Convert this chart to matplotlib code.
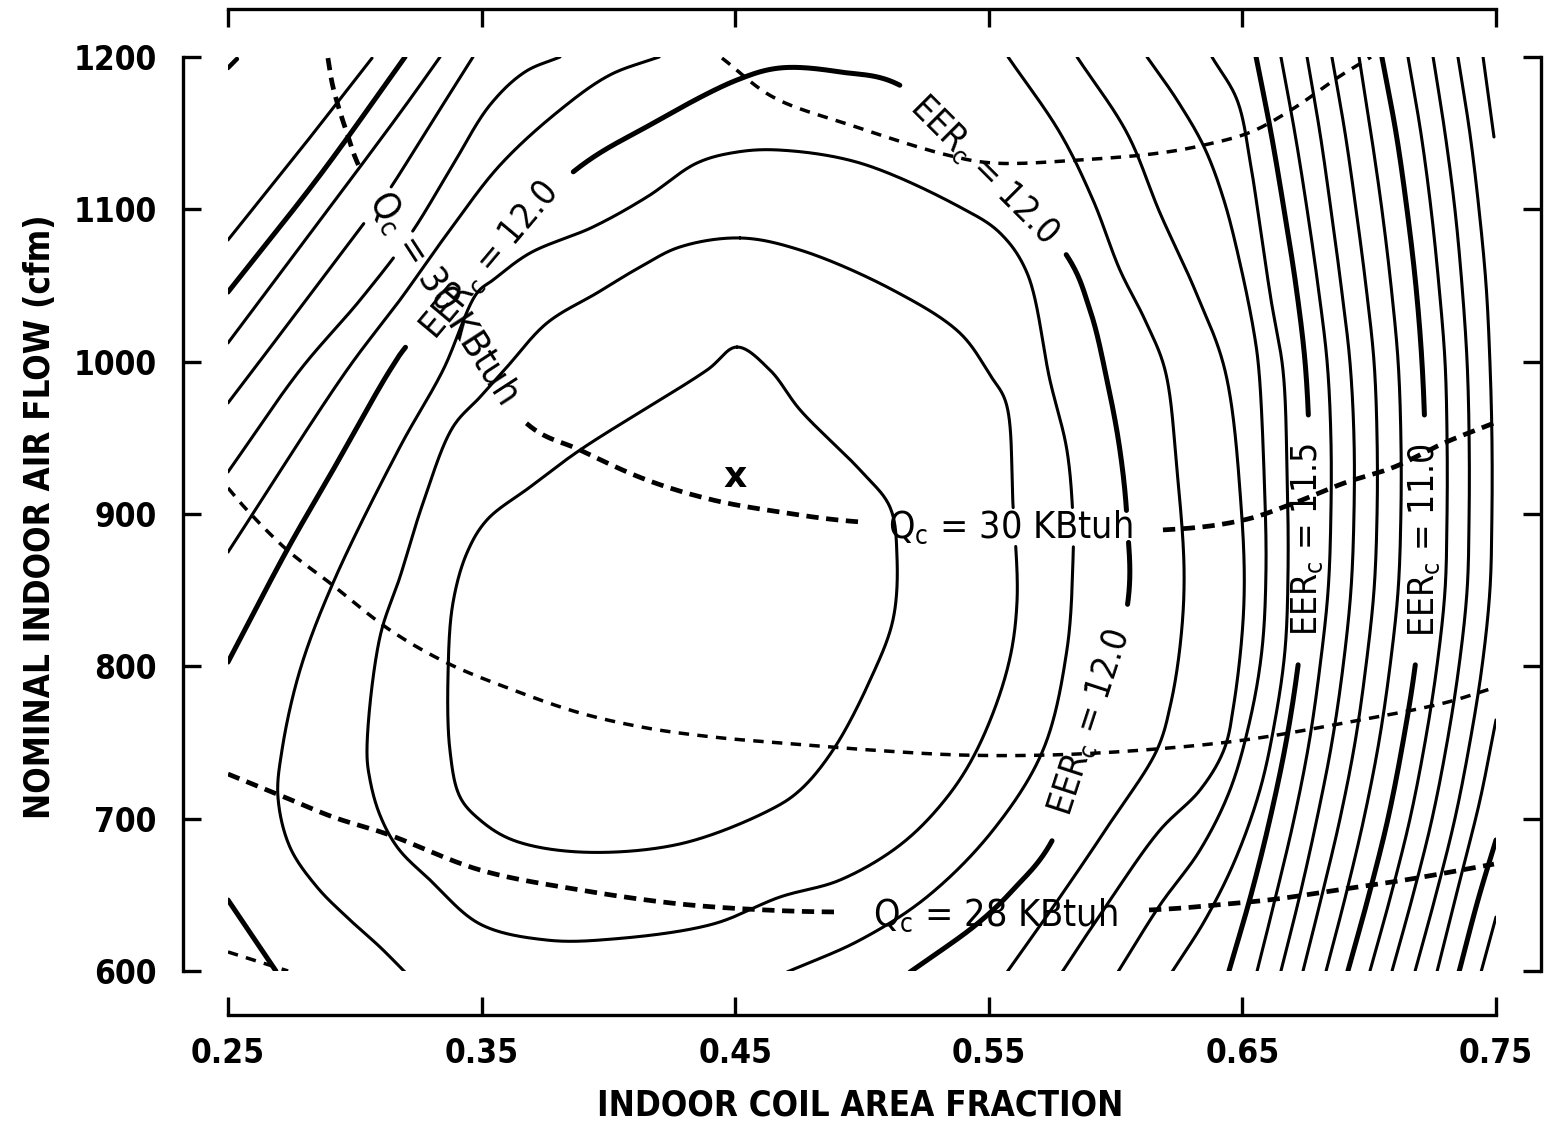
import numpy as np
import matplotlib
matplotlib.use("Agg")
import matplotlib.pyplot as plt
from matplotlib import font_manager

plt.rcParams['font.family'] = ['DejaVu Sans']
plt.rcParams['mathtext.fontset'] = 'dejavusans'

# ---------------- data ----------------
X_TICKS = [0.25, 0.35, 0.45, 0.55, 0.65, 0.75]
X_TICKLABELS = ['0.25', '0.35', '0.45', '0.55', '0.65', '0.75']
Y_TICKS = [600, 700, 800, 900, 1000, 1100, 1200]
Y_TICKLABELS = ['600', '700', '800', '900', '1000', '1100', '1200']
X_LABEL = 'INDOOR COIL AREA FRACTION'
Y_LABEL = 'NOMINAL INDOOR AIR FLOW (cfm)'

# EER_c contours, upper-left family (x = area fraction, y = cfm)
EER113_X = [0.2500, 0.2535]
EER113_Y = [1192.8, 1198.7]
EER114_X = [0.2500, 0.2784, 0.3068]
EER114_Y = [1079.9, 1138.9, 1199.3]
EER115A_X = [0.2500, 0.2863, 0.3198]
EER115A_Y = [1045.7, 1122.5, 1200.0]
EER116A_X = [0.2500, 0.3178, 0.3336]
EER116A_Y = [1012.3, 1163.2, 1200.0]
EER117A_X = [0.2500, 0.2599, 0.2823, 0.3052, 0.3127, 0.3297, 0.3466]
EER117A_Y = [972.9, 994.5, 1043.8, 1094.3, 1110.7, 1155.4, 1200.0]
EER118A_X = [0.2500, 0.2784, 0.3021, 0.3218, 0.3375, 0.3533, 0.3671, 0.3809]
EER118A_Y = [927.6, 994.5, 1040.5, 1083.2, 1125.8, 1168.5, 1190.2, 1200.0]
EER119A_X = [0.2500, 0.2969, 0.3178, 0.3375, 0.3573, 0.3809, 0.4006, 0.4200]
EER119A_Y = [875.0, 994.5, 1040.5, 1086.4, 1129.1, 1165.2, 1188.2, 1200.0]

# EER_c = 12.0 (main curve) and the small corner piece
EER120_X = [0.2500, 0.2733, 0.2914, 0.3139, 0.3210,
            0.3856, 0.4164, 0.4507, 0.4677, 0.4913, 0.5162,
            0.5801, 0.5899, 0.5966, 0.6017, 0.6045, 0.6045,
            0.5753, 0.5595, 0.5453, 0.5189]
EER120_Y = [802.8, 876.4, 928.9, 994.5, 1011.5,
            1123.9, 1155.4, 1184.9, 1192.8, 1190.2, 1180.3,
            1071.3, 1033.9, 987.9, 942.0, 896.1, 838.3,
            686.6, 653.2, 630.8, 599.3]
EER120B_X = [0.2500, 0.2689]
EER120B_Y = [646.6, 600.0]

# EER_c = 12.1 (open curve)
EER121_X = [0.3198, 0.3099, 0.2981, 0.2851, 0.2744, 0.2697, 0.2713, 0.2784, 0.2914,
            0.3178, 0.3348, 0.3482, 0.3545, 0.3691, 0.3939, 0.4152, 0.4349, 0.4507,
            0.4677, 0.4992, 0.5386, 0.5544, 0.5651, 0.5741, 0.5808, 0.5832, 0.5832,
            0.5808, 0.5714, 0.5517, 0.5256, 0.4992, 0.4704]
EER121_Y = [599.3, 615.8, 633.5, 655.1, 681.4, 714.2, 745.1, 797.6, 854.7,
            944.0, 994.5, 1045.1, 1053.6, 1071.3, 1088.4, 1108.1, 1130.4, 1137.6,
            1138.9, 1130.4, 1101.5, 1084.5, 1058.2, 987.9, 942.0, 896.1, 869.8,
            810.7, 745.1, 692.5, 648.6, 620.3, 599.3]

# EER_c = 12.2 (closed)
EER122_X = [0.4519, 0.4756, 0.5122, 0.5386, 0.5505, 0.5568, 0.5595, 0.5611, 0.5572,
            0.5453, 0.5327, 0.5150, 0.4913, 0.4677, 0.4412, 0.4018, 0.3758, 0.3494,
            0.3297, 0.3170, 0.3099, 0.3060, 0.3048, 0.3099, 0.3178, 0.3269, 0.3387,
            0.3494, 0.3600, 0.3758, 0.3955, 0.4125, 0.4282, 0.4519]
EER122_Y = [1081.2, 1073.3, 1047.0, 1018.8, 991.2, 972.9, 907.2, 841.6, 797.6,
            745.1, 712.3, 682.7, 659.7, 648.6, 630.8, 621.0, 620.3, 630.8,
            659.7, 680.7, 702.4, 725.4, 745.1, 819.2, 858.6, 907.2, 957.1,
            976.8, 996.5, 1025.4, 1045.1, 1062.1, 1075.3, 1081.2]

# EER_c = 12.3 (closed, innermost)
EER123_X = [0.4507, 0.4637, 0.4756, 0.4992, 0.5110, 0.5138, 0.5122, 0.5032, 0.4886,
            0.4756, 0.4637, 0.4282, 0.3888, 0.3624, 0.3494, 0.3415, 0.3375, 0.3368,
            0.3387, 0.3442, 0.3521, 0.3691, 0.3888, 0.4389, 0.4507]
EER123_Y = [1009.6, 994.5, 968.3, 928.9, 904.6, 871.8, 830.4, 791.0, 745.1,
            718.8, 705.7, 683.4, 678.1, 685.9, 699.1, 714.2, 745.1, 797.6,
            841.6, 874.4, 896.1, 917.7, 942.0, 994.5, 1009.6]

# right-hand family, irregular ones
EER119B_X = [0.5576, 0.5781, 0.5911, 0.6017, 0.6116, 0.6195, 0.6242, 0.6270, 0.6258,
             0.6218, 0.6163, 0.5978, 0.5781, 0.5572]
EER119B_Y = [1200.0, 1150.1, 1106.1, 1060.2, 1027.3, 994.5, 928.9, 863.2, 819.2,
             775.9, 745.1, 697.1, 648.6, 599.3]
EER118B_X = [0.5848, 0.6045, 0.6175, 0.6313, 0.6431, 0.6494, 0.6506, 0.6467, 0.6427,
             0.6333, 0.6175, 0.5978, 0.5789]
EER118B_Y = [1200.0, 1150.1, 1097.6, 1047.0, 994.5, 907.2, 841.6, 775.9, 745.1,
             718.8, 692.5, 646.6, 599.3]
EER117B_X = [0.6124, 0.6242, 0.6349, 0.6427, 0.6494, 0.6546, 0.6565, 0.6585, 0.6593,
             0.6577, 0.6530, 0.6451, 0.6333, 0.6175, 0.6009]
EER117B_Y = [1200.0, 1171.8, 1140.9, 1106.1, 1062.1, 1018.8, 994.5, 928.9, 863.2,
             810.7, 764.8, 718.8, 679.4, 643.3, 599.3]
EER116B_X = [0.6380, 0.6479, 0.6534, 0.6573, 0.6613, 0.6660, 0.6676, 0.6680, 0.6668,
             0.6629, 0.6569, 0.6471, 0.6353, 0.6222]
EER116B_Y = [1200.0, 1171.8, 1127.8, 1084.5, 1040.5, 994.5, 928.9, 863.2, 810.7,
             764.8, 718.8, 672.8, 633.5, 599.3]

# right-hand family sampled on a common cfm grid
RG_Y = [1200, 1150, 1100, 1050, 1000, 950, 900, 850, 800, 750, 700, 650, 600]
EER115B_X = [0.6554, 0.6613, 0.6664, 0.6711, 0.6747, 0.6763, 0.6763, 0.6751, 0.6719, 0.6672, 0.6609, 0.6534, 0.6447]
EER114B_X = [0.6652, 0.6707, 0.6755, 0.6798, 0.6834, 0.6849, 0.6849, 0.6838, 0.6806, 0.6763, 0.6704, 0.6633, 0.6558]
EER113B_X = [0.6755, 0.6806, 0.6849, 0.6889, 0.6924, 0.6940, 0.6940, 0.6928, 0.6897, 0.6853, 0.6794, 0.6727, 0.6652]
EER112_X = [0.6853, 0.6905, 0.6948, 0.6987, 0.7019, 0.7031, 0.7031, 0.7019, 0.6987, 0.6944, 0.6885, 0.6814, 0.6739]
EER111_X = [0.6960, 0.7007, 0.7050, 0.7086, 0.7114, 0.7125, 0.7125, 0.7114, 0.7082, 0.7038, 0.6979, 0.6908, 0.6830]
EER110_X = [0.7050, 0.7106, 0.7149, 0.7184, 0.7208, 0.7220, 0.7220, 0.7212, 0.7181, 0.7133, 0.7074, 0.6999, 0.6916]
EER109_X = [0.7153, 0.7204, 0.7244, 0.7275, 0.7299, 0.7307, 0.7307, 0.7299, 0.7267, 0.7220, 0.7161, 0.7086, 0.7003]
EER108_X = [0.7252, 0.7299, 0.7338, 0.7366, 0.7386, 0.7394, 0.7394, 0.7386, 0.7354, 0.7307, 0.7248, 0.7173, 0.7090]
EER107_X = [0.7350, 0.7397, 0.7433, 0.7461, 0.7476, 0.7484, 0.7484, 0.7476, 0.7445, 0.7397, 0.7338, 0.7263, 0.7181]
EER106A_X = [0.7449, 0.7492]
EER106A_Y = [1200.0, 1147.5]
EER106B_X = [0.7500, 0.7437, 0.7358, 0.7267]
EER106B_Y = [764.8, 712.3, 659.7, 599.3]
EER105_X = [0.7500, 0.7429, 0.7354]
EER105_Y = [686.0, 646.6, 599.3]
EER104_X = [0.7500, 0.7441]
EER104_Y = [635.4, 599.3]

# Q_c (capacity) dashed contours
Q31_X = [0.4448, 0.4649, 0.4953, 0.5335, 0.5517, 0.5860, 0.6175, 0.6349, 0.6534, 0.6704, 0.6873, 0.7007]
Q31_Y = [1199.3, 1173.7, 1155.4, 1135.7, 1130.4, 1132.4, 1137.0, 1142.2, 1150.8, 1166.5, 1186.2, 1200.0]
Q30_X = [0.2894, 0.2914, 0.2969, 0.3028, 0.3671, 0.3888, 0.4152, 0.4412, 0.4677, 0.4992,
         0.6179, 0.6506, 0.6704, 0.6901, 0.7098, 0.7295, 0.7492]
Q30_Y = [1199.3, 1180.3, 1150.1, 1124.5, 960.4, 942.0, 922.3, 909.2, 901.3, 894.8,
         889.5, 896.1, 907.2, 920.3, 930.8, 946.6, 959.7]
Q29_X = [0.2500, 0.2575, 0.2733, 0.2902, 0.3139, 0.3364, 0.3624, 0.3888, 0.4152, 0.4412,
         0.4677, 0.5032, 0.5386, 0.5741, 0.6112, 0.6506, 0.6901, 0.7295, 0.7500]
Q29_Y = [917.1, 902.6, 876.4, 854.7, 823.8, 802.2, 784.5, 769.4, 759.5, 753.6,
         749.7, 745.1, 741.8, 741.8, 745.1, 751.6, 762.8, 775.9, 786.4]
Q28_X = [0.2500, 0.2693, 0.2914, 0.3127, 0.3494, 0.3888, 0.4282, 0.4625, 0.4925,
         0.6124, 0.6439, 0.6636, 0.6901, 0.7165, 0.7492]
Q28_Y = [729.3, 716.2, 701.1, 689.9, 666.3, 653.2, 644.0, 640.0, 638.7,
         640.0, 644.0, 647.3, 653.8, 660.4, 670.2]
Q27_X = [0.2500, 0.2737]
Q27_Y = [612.5, 600.0]

# design point marker
OPT_X, OPT_Y = 0.45, 924.3

# inline labels: text, x, y, rotation
LABELS = [
    ('EER$_\\mathregular{c}$ = 12.0', 0.3533, 1066.7, 50),
    ('EER$_\\mathregular{c}$ = 12.0', 0.5481, 1125.8, -45),
    ('EER$_\\mathregular{c}$ = 12.0', 0.5899, 762.8, 72),
    ('EER$_\\mathregular{c}$ = 11.5', 0.6755, 882.9, 90),
    ('EER$_\\mathregular{c}$ = 11.0', 0.7216, 882.9, 90),
    ('Q$_\\mathregular{c}$ = 30 KBtuh', 0.3348, 1042.4, -57),
    ('Q$_\\mathregular{c}$ = 30 KBtuh', 0.5584, 891.5, 0),
    ('Q$_\\mathregular{c}$ = 28 KBtuh', 0.5524, 636.8, 0),
]

# places where other lines are broken by a label's glyphs (x, y, radius px)
GAP_117 = [(0.3088, 1102.8, 22)]
GAP_118 = [(0.3210, 1074.0, 17)]
GAP_122 = [(0.5595, 891.5, 19)]
GAP_121 = [(0.5832, 891.5, 19)]
GAP_120 = [(0.6045, 891.5, 15)]

# ---------------- fonts ----------------
_cond_path = font_manager.findfont(font_manager.FontProperties(
    family='DejaVu Sans', stretch='condensed', weight='bold'))
CONDENSED = 'ondensed' in _cond_path
if CONDENSED:
    STRETCH = 'condensed'
    FS_TICK, FS_AXIS, FS_EER, FS_Q, FS_X = 24, 25, 25.5, 27, 26
else:
    STRETCH = 'normal'
    FS_TICK, FS_AXIS, FS_EER, FS_Q, FS_X = 22, 22.5, 24, 25.5, 25

# ---------------- figure ----------------
W, H = 1544, 1127
fig = plt.figure(figsize=(W / 100, H / 100), dpi=100)
ax = fig.add_axes([228 / W, 1 - 971 / H, 1268 / W, 914 / H])
ax.set_xlim(0.25, 0.75)
ax.set_ylim(600, 1200)


def centripetal(P, closed=False):
    P = np.asarray(P, float)
    if len(P) < 3:
        return P
    if closed:
        Q = P[:-1]
        ext = np.vstack([Q[-1], Q, Q[0], Q[1]])
    else:
        ext = np.vstack([2 * P[0] - P[1], P, 2 * P[-1] - P[-2]])
    out = []
    for i in range(1, len(ext) - 2):
        p0, p1, p2, p3 = ext[i - 1], ext[i], ext[i + 1], ext[i + 2]
        t0 = 0.0
        t1 = t0 + max(np.hypot(*(p1 - p0)), 1e-6) ** 0.5
        t2 = t1 + max(np.hypot(*(p2 - p1)), 1e-6) ** 0.5
        t3 = t2 + max(np.hypot(*(p3 - p2)), 1e-6) ** 0.5
        n = max(int(np.hypot(*(p2 - p1)) / 1.5), 2)
        t = np.linspace(t1, t2, n, endpoint=False)[:, None]
        A1 = (t1 - t) / (t1 - t0) * p0 + (t - t0) / (t1 - t0) * p1
        A2 = (t2 - t) / (t2 - t1) * p1 + (t - t1) / (t2 - t1) * p2
        A3 = (t3 - t) / (t3 - t2) * p2 + (t - t2) / (t3 - t2) * p3
        B1 = (t2 - t) / (t2 - t0) * A1 + (t - t0) / (t2 - t0) * A2
        B2 = (t3 - t) / (t3 - t1) * A2 + (t - t1) / (t3 - t1) * A3
        out.append((t2 - t) / (t2 - t1) * B1 + (t - t1) / (t2 - t1) * B2)
    out.append(ext[-2][None])
    return np.vstack(out)


def curve(xs, ys, holes=(), closed=False, **kw):
    pts = ax.transData.transform(np.column_stack([xs, ys]))
    D = centripetal(pts, closed=closed)
    if len(D) == 2:
        m = max(int(np.hypot(*(D[1] - D[0]))), 2)
        tt = np.linspace(0, 1, m)[:, None]
        D = D[0] + tt * (D[1] - D[0])
    D = D.copy()
    for (hx, hy, r) in holes:
        c = ax.transData.transform((hx, hy))
        D[np.hypot(D[:, 0] - c[0], D[:, 1] - c[1]) < r] = np.nan
    dd = ax.transData.inverted().transform(D)
    ax.plot(dd[:, 0], dd[:, 1], color='black', solid_capstyle='round', **kw)


THIN, THICK = 2.2, 3.6
lab = {i: (l[1], l[2]) for i, l in enumerate(LABELS)}


def hole(i, r):
    return (lab[i][0], lab[i][1], r)


# upper-left family
curve(EER113_X, EER113_Y, lw=THICK * 0.9)
curve(EER114_X, EER114_Y, lw=THIN)
curve(EER115A_X, EER115A_Y, lw=THICK)
curve(EER116A_X, EER116A_Y, lw=THIN)
curve(EER117A_X, EER117A_Y, holes=GAP_117, lw=THIN)
curve(EER118A_X, EER118A_Y, holes=GAP_118, lw=THIN)
curve(EER119A_X, EER119A_Y, lw=THIN)
curve(EER120_X, EER120_Y, holes=[hole(0, 121), hole(1, 118), hole(2, 123)] + GAP_120, lw=THICK)
curve(EER120B_X, EER120B_Y, lw=THICK)
curve(EER121_X, EER121_Y, holes=GAP_121, lw=THIN)
curve(EER122_X, EER122_Y, holes=GAP_122, closed=True, lw=THIN)
curve(EER123_X, EER123_Y, closed=True, lw=THIN)
# right family
curve(EER119B_X, EER119B_Y, lw=THIN)
curve(EER118B_X, EER118B_Y, lw=THIN)
curve(EER117B_X, EER117B_Y, lw=THIN)
curve(EER116B_X, EER116B_Y, lw=THIN)
curve(EER115B_X, RG_Y, holes=[hole(3, 124)], lw=THICK)
curve(EER114B_X, RG_Y, lw=THIN)
curve(EER113B_X, RG_Y, lw=THIN)
curve(EER112_X, RG_Y, lw=THIN)
curve(EER111_X, RG_Y, lw=THIN)
curve(EER110_X, RG_Y, holes=[hole(4, 124)], lw=THICK)
curve(EER109_X, RG_Y, lw=THIN)
curve(EER108_X, RG_Y, lw=THIN)
curve(EER107_X, RG_Y, lw=THIN)
curve(EER106A_X, EER106A_Y, lw=THIN)
curve(EER106B_X, EER106B_Y, lw=THIN)
curve(EER105_X, EER105_Y, lw=THICK)
curve(EER104_X, EER104_Y, lw=THIN)

# Q_c dashed
curve(Q31_X, Q31_Y, lw=2.5, dashes=(3.0, 2.4))
curve(Q30_X, Q30_Y, holes=[hole(5, 151), hole(6, 152)], lw=3.4, dashes=(2.6, 1.6))
curve(Q29_X, Q29_Y, lw=2.5, dashes=(3.0, 2.4))
curve(Q28_X, Q28_Y, holes=[hole(7, 153)], lw=3.4, dashes=(2.6, 1.6))
curve(Q27_X, Q27_Y, lw=2.5, dashes=(3.0, 2.4))

for i, (s, x, y, rot) in enumerate(LABELS):
    fs = FS_EER if s.startswith('EER') else FS_Q
    ax.text(x, y, s, rotation=rot, rotation_mode='anchor', ha='center', va='center',
            fontsize=fs, fontstretch=STRETCH, zorder=5)

ax.text(OPT_X, OPT_Y, 'x', fontsize=FS_X, fontweight='bold', ha='center', va='center')

# ---------------- axes styling (range frame) ----------------
for side, off in [('left', 32.4), ('right', 32.4), ('top', 34.6), ('bottom', 31.7)]:
    ax.spines[side].set_position(('outward', off))
    ax.spines[side].set_linewidth(2.4)
ax.spines['left'].set_bounds(600, 1200)
ax.spines['right'].set_bounds(600, 1200)
ax.spines['top'].set_bounds(0.25, 0.75)
ax.spines['bottom'].set_bounds(0.25, 0.75)

ax.set_xticks(X_TICKS)
ax.set_xticklabels(X_TICKLABELS)
ax.set_yticks(Y_TICKS)
ax.set_yticklabels(Y_TICKLABELS)
ax.tick_params(direction='in', length=13, width=2.4, top=True, right=True,
               labeltop=False, labelright=False, labelsize=FS_TICK)
ax.tick_params(axis='x', pad=16)
ax.tick_params(axis='y', pad=19)
for t in ax.get_xticklabels() + ax.get_yticklabels():
    t.set_fontweight('bold')
    t.set_fontstretch(STRETCH)

ax.set_xlabel(X_LABEL, fontsize=FS_AXIS, fontweight='bold', fontstretch=STRETCH)
ax.set_ylabel(Y_LABEL, fontsize=FS_AXIS, fontweight='bold', fontstretch=STRETCH)
ax.xaxis.set_label_coords((860 - 228) / 1268, (971 - 1089) / 914)
ax.yaxis.set_label_coords((57 - 228) / 1268, (971 - 517) / 914)

fig.savefig('out.png', dpi=100)
